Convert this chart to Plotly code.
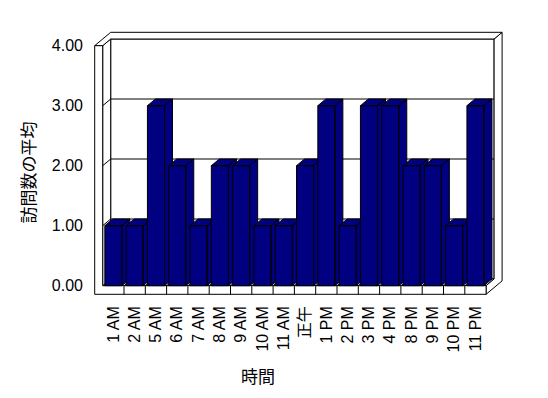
import plotly.graph_objects as go

# ---- data ----
categories = ["1 AM", "2 AM", "5 AM", "6 AM", "7 AM", "8 AM", "9 AM", "10 AM", "11 AM",
              "正午", "1 PM", "2 PM", "3 PM", "4 PM", "8 PM", "9 PM", "10 PM", "11 PM"]
values = [1, 1, 3, 2, 1, 2, 2, 1, 1, 2, 3, 1, 3, 3, 2, 2, 1, 3]
y_ticks = [0, 1, 2, 3, 4]
x_title = "時間"
y_title = "訪問数の平均"

# ---- geometry (oblique 3D look) ----
W, H = 548, 398
L, R, T, B = 90, 506, 28, 298
PX_PER_CAT = 21.3
PX_PER_UNIT = 60.0
X0_PX = 102.7      # left edge of first category, front plane
Y0_PX = 285.7      # value 0, front plane
ddx = 8.0 / PX_PER_CAT      # depth offset in x units
ddy = 6.7 / PX_PER_UNIT     # depth offset in y units
wall = 8.0 / PX_PER_CAT     # left wall thickness
floor_t = 8.6 / PX_PER_UNIT # floor thickness
bw = 0.4                    # half bar width
n = len(categories)
xl, xr = -0.5, n - 0.5
ymax = max(y_ticks)

xrange = [(L - X0_PX) / PX_PER_CAT - 0.5, (R - X0_PX) / PX_PER_CAT - 0.5]
yrange = [(Y0_PX - B) / PX_PER_UNIT, (Y0_PX - T) / PX_PER_UNIT]

NAVY = "#000080"
fig = go.Figure()


def poly(pts_list, fill, width=1):
    xs, ys = [], []
    for pts in pts_list:
        for p in pts + [pts[0]]:
            xs.append(p[0]); ys.append(p[1])
        xs.append(None); ys.append(None)
    fig.add_trace(go.Scatter(x=xs, y=ys, mode="lines", fill="toself", fillcolor=fill,
                             line=dict(color="black", width=width), hoverinfo="skip",
                             showlegend=False))


def lines(seg_list):
    xs, ys = [], []
    for seg in seg_list:
        for p in seg:
            xs.append(p[0]); ys.append(p[1])
        xs.append(None); ys.append(None)
    fig.add_trace(go.Scatter(x=xs, y=ys, mode="lines", line=dict(color="black", width=1),
                             hoverinfo="skip", showlegend=False))


# back wall front face, floor top, left wall inner face
poly([[(xl + ddx, ddy), (xr + ddx, ddy), (xr + ddx, ymax + ddy), (xl + ddx, ymax + ddy)]], "white")
poly([[(xl, 0), (xr, 0), (xr + ddx, ddy), (xl + ddx, ddy)]], "white")
poly([[(xl, 0), (xl + ddx, ddy), (xl + ddx, ymax + ddy), (xl, ymax)]], "white")

# gridlines (front tick on left wall, across inner wall, along back wall)
grid = []
for v in y_ticks:
    if 0 < v < ymax:
        grid.append([(xl - wall, v), (xl, v), (xl + ddx, v + ddy), (xr + ddx, v + ddy)])
# floor depth lines at category boundaries
for k in range(1, n):
    grid.append([(xl + k, 0), (xl + k + ddx, ddy)])
lines(grid)

# right side (floor + back wall)
poly([[(xr, 0), (xr, -floor_t), (xr + 2 * ddx, -floor_t + 2 * ddy),
       (xr + 2 * ddx, ymax + 2 * ddy), (xr + ddx, ymax + ddy), (xr + ddx, ddy)]], "white")
# top of walls
poly([[(xl - wall, ymax), (xl, ymax), (xl + ddx, ymax + ddy), (xr + ddx, ymax + ddy),
       (xr + 2 * ddx, ymax + 2 * ddy), (xl - wall + 2 * ddx, ymax + 2 * ddy)]], "white")
# left wall front + floor front
poly([[(xl - wall, -floor_t), (xr, -floor_t), (xr, 0), (xl, 0), (xl, ymax), (xl - wall, ymax)]], "white")
lines([[(xl + k, -floor_t), (xl + k, 0)] for k in range(1, n)])

# bars, left to right (painter's order)
for k, v in enumerate(values):
    front = [(k - bw, 0), (k + bw, 0), (k + bw, v), (k - bw, v)]
    top = [(k - bw, v), (k + bw, v), (k + bw + ddx, v + ddy), (k - bw + ddx, v + ddy)]
    side = [(k + bw, 0), (k + bw + ddx, ddy), (k + bw + ddx, v + ddy), (k + bw, v)]
    poly([side, top, front], NAVY)

TICKFONT = dict(family="Liberation Sans, Noto Sans CJK JP", size=16, color="black")

fig.update_xaxes(range=xrange, tickmode="array", tickvals=list(range(n)), ticktext=categories,
                 tickangle=-90, showgrid=False, zeroline=False, showline=False, ticks="",
                 tickfont=TICKFONT, ticklabelstandoff=4, fixedrange=True)
fig.update_yaxes(range=yrange, tickmode="array", tickvals=y_ticks, tickformat=".2f",
                 showgrid=False, zeroline=False, showline=False, ticks="",
                 tickfont=TICKFONT, ticklabelstandoff=6, fixedrange=True)

TITLEFONT = dict(family="Noto Sans CJK JP", size=17, color="black")
fig.add_annotation(text=x_title, xref="paper", yref="paper",
                   x=(258 - L) / (R - L), y=(B - 376) / (B - T),
                   showarrow=False, font=TITLEFONT, xanchor="center", yanchor="middle")
fig.add_annotation(text=y_title, xref="paper", yref="paper",
                   x=(27.5 - L) / (R - L), y=(B - 173) / (B - T), textangle=-90,
                   showarrow=False, font=TITLEFONT, xanchor="center", yanchor="middle")

fig.update_layout(width=W, height=H, autosize=False,
                  margin=dict(l=L, r=W - R, t=T, b=H - B, pad=0),
                  paper_bgcolor="white", plot_bgcolor="white", showlegend=False)

fig.write_html("out.html")
